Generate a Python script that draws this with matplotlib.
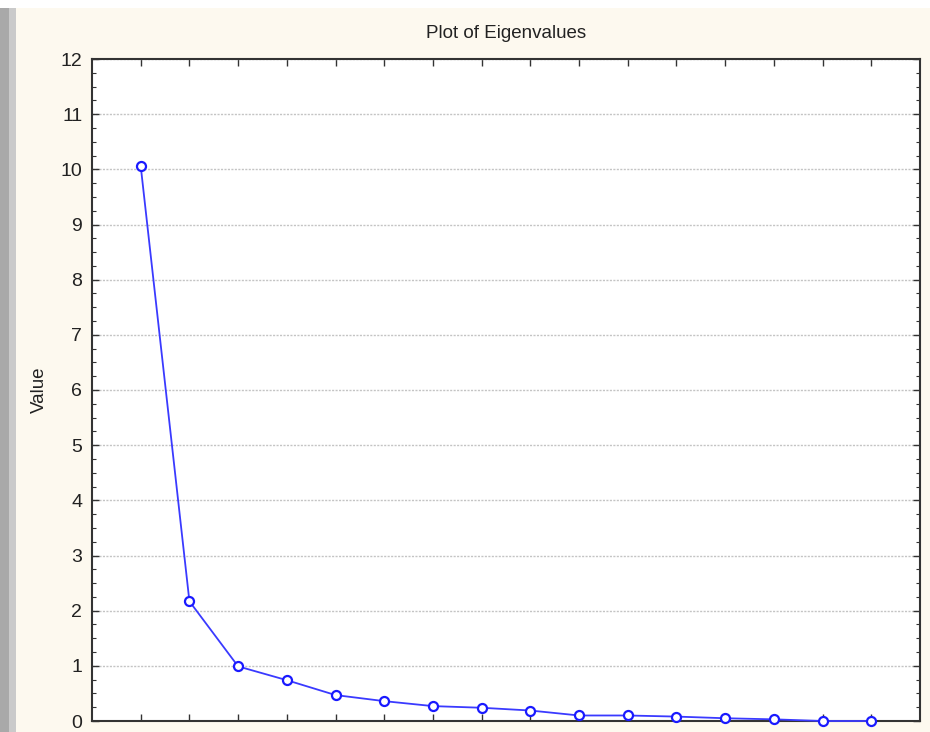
import matplotlib.pyplot as plt
from matplotlib.patches import Rectangle
from matplotlib.ticker import MultipleLocator

# Eigenvalues
factors = list(range(1, 17))
eigenvalues = [10.06, 2.17, 0.99, 0.74, 0.47, 0.36, 0.27, 0.24,
               0.19, 0.10, 0.10, 0.08, 0.05, 0.03, 0.0, 0.0]
y_ticks = list(range(0, 13))

plt.rcParams['font.family'] = ['Liberation Sans', 'DejaVu Sans']

fig = plt.figure(figsize=(9.3, 7.32), dpi=100, facecolor='#fdf9ef')
ax = fig.add_axes([92 / 930, 11 / 732, 828 / 930, 662 / 732])

# white strip on top, grey window edge on the left
fig.patches.append(Rectangle((0, 724 / 732), 1, 8 / 732, transform=fig.transFigure,
                             facecolor='white', edgecolor='none'))
fig.patches.append(Rectangle((0, 0), 9 / 930, 724 / 732, transform=fig.transFigure,
                             facecolor='#a9a9a9', edgecolor='none'))
fig.patches.append(Rectangle((9 / 930, 0), 7 / 930, 724 / 732, transform=fig.transFigure,
                             facecolor='#cacaca', edgecolor='none'))

ax.plot(factors, eigenvalues, color='#3a3aff', lw=1.3, marker='o', ms=6.5,
        mfc='white', mec='#1a1aff', mew=1.6, clip_on=False, zorder=3)

ax.set_xlim(0, 17)
ax.set_ylim(0, 12)
ax.set_xticks(factors)
ax.set_xticklabels([])
ax.set_yticks(y_ticks)
ax.yaxis.set_minor_locator(MultipleLocator(0.25))
ax.tick_params(which='both', direction='in', top=True, right=True,
               labelsize=14, colors='#333333', labelcolor='#222222')
ax.tick_params(which='major', length=5, width=1, pad=7)
ax.tick_params(which='minor', length=3, width=0.8)
ax.tick_params(axis='x', which='minor', bottom=False, top=False)
ax.grid(axis='y', which='major', linestyle=(0, (1.5, 1)), color='#c4c4c4', lw=1.0)
ax.set_axisbelow(True)
for s in ax.spines.values():
    s.set_color('#333333')
    s.set_linewidth(1.5)

ax.set_ylabel('Value', fontsize=13.5, color='#222222', labelpad=9)
ax.set_title('Plot of Eigenvalues', fontsize=13.5, color='#222222', pad=15)

fig.savefig('out.png', dpi=100, facecolor=fig.get_facecolor())
